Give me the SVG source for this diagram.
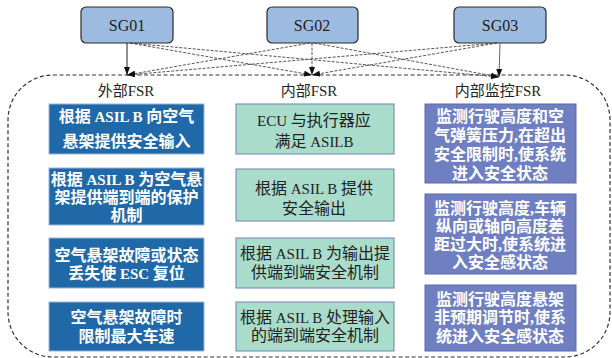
<svg xmlns="http://www.w3.org/2000/svg" width="612" height="358" viewBox="0 0 612 358">
<defs>
<marker id="ah" markerUnits="userSpaceOnUse" markerWidth="8" markerHeight="6" refX="8" refY="3" orient="auto">
<path d="M0,0 L8,3 L0,6 z" fill="#111"/>
</marker>
<style>
.sg{fill:#9dbbe0;stroke:#2a2a2a;stroke-width:1.2}
.sgt{font-family:"Liberation Serif",serif;font-size:16px;fill:#222;text-anchor:middle}
.lbl{font-family:"Liberation Serif","Noto Sans CJK SC",serif;font-size:15px;fill:#222;text-anchor:middle}
.lat{font-size:15px}
.b1{fill:#1f69a8;stroke:#9bb4d6;stroke-width:1}
.b2{fill:#aadccc;stroke:#6a82b4;stroke-width:1}
.b3{fill:#6f7fc1;stroke:#5b6bb0;stroke-width:1}
.t1{font-family:"Liberation Serif","Noto Sans CJK SC",serif;font-size:16px;font-weight:bold;fill:#fff;text-anchor:middle}
.t2{font-family:"Liberation Serif","Noto Sans CJK SC",serif;font-size:16px;fill:#222;text-anchor:middle}
.t3{font-family:"Liberation Serif","Noto Sans CJK SC",serif;font-size:16px;font-weight:bold;fill:#fff;text-anchor:middle}
.solid{stroke:#222;stroke-width:1;fill:none}
.dash{stroke:#444;stroke-width:0.9;stroke-dasharray:3,1.5;fill:none}
.cont{fill:none;stroke:#333;stroke-width:1.2;stroke-dasharray:4,2.5}
</style>
</defs>

<rect class="cont" x="8" y="75" width="602" height="282" rx="45" ry="45"/>

<g id="SG01"><rect class="sg" x="81" y="7" width="92" height="36" rx="5"/><text class="sgt" x="127" y="31">SG01</text></g>
<g id="SG02"><rect class="sg" x="267" y="7" width="91" height="36" rx="5"/><text class="sgt" x="312" y="31">SG02</text></g>
<g id="SG03"><rect class="sg" x="454" y="7" width="92" height="36" rx="5"/><text class="sgt" x="500" y="31">SG03</text></g>

<g id="connectors">
<path class="solid" d="M127,43 L127,75" marker-end="url(#ah)"/>
<path class="dash" d="M130,43 L312,75" marker-end="url(#ah)"/>
<path class="dash" d="M130,43 L499,77" marker-end="url(#ah)"/>
<path class="dash" d="M312,43 L312,75" marker-end="url(#ah)"/>
<path class="dash" d="M310,43 L127,75" marker-end="url(#ah)"/>
<path class="dash" d="M314,43 L499,77" marker-end="url(#ah)"/>
<path class="solid" d="M500,43 L499,77" style="stroke:#666" marker-end="url(#ah)"/>
<path class="dash" d="M497,43 L127,75" marker-end="url(#ah)"/>
<path class="dash" d="M497,43 L312,75" marker-end="url(#ah)"/>
</g>

<text class="lbl" x="126" y="96">外部<tspan>FSR</tspan></text>
<text class="lbl" x="309" y="96">内部<tspan>FSR</tspan></text>
<text class="lbl" x="498" y="96">内部监控<tspan>FSR</tspan></text>

<g id="ext1"><rect class="b1" x="49" y="104" width="155" height="50"/>
<text class="t1"><tspan x="126.5" y="122">根据<tspan class="lat"> ASIL B </tspan>向空气</tspan><tspan x="126.5" y="147">悬架提供安全输入</tspan></text></g>
<g id="ext2"><rect class="b1" x="49" y="168" width="155" height="57"/>
<text class="t1"><tspan x="126.5" y="185">根据<tspan class="lat"> ASIL B </tspan>为空气悬</tspan><tspan x="126.5" y="203">架提供端到端的保护</tspan><tspan x="126.5" y="221">机制</tspan></text></g>
<g id="ext3"><rect class="b1" x="49" y="238" width="155" height="50"/>
<text class="t1"><tspan x="126.5" y="261">空气悬架故障或状态</tspan><tspan x="126.5" y="279">丢失使<tspan class="lat"> ESC </tspan>复位</tspan></text></g>
<g id="ext4"><rect class="b1" x="49" y="302" width="155" height="49"/>
<text class="t1"><tspan x="126.5" y="323">空气悬架故障时</tspan><tspan x="126.5" y="342">限制最大车速</tspan></text></g>

<g id="int1"><rect class="b2" x="236" y="104" width="158" height="50"/>
<text class="t2"><tspan x="314" y="126"><tspan class="lat">ECU </tspan>与执行器应</tspan><tspan x="314" y="147">满足<tspan class="lat"> ASILB</tspan></tspan></text></g>
<g id="int2"><rect class="b2" x="236" y="169" width="158" height="52"/>
<text class="t2"><tspan x="314" y="194">根据<tspan class="lat"> ASIL B </tspan>提供</tspan><tspan x="314" y="214">安全输出</tspan></text></g>
<g id="int3"><rect class="b2" x="236" y="238" width="158" height="50"/>
<text class="t2"><tspan x="315" y="259">根据<tspan class="lat"> ASIL B </tspan>为输出提</tspan><tspan x="315" y="278">供端到端安全机制</tspan></text></g>
<g id="int4"><rect class="b2" x="236" y="302" width="158" height="49"/>
<text class="t2"><tspan x="315" y="323">根据<tspan class="lat"> ASIL B </tspan>处理输入</tspan><tspan x="315" y="341">的端到端安全机制</tspan></text></g>

<g id="mon1"><rect class="b3" x="425" y="104" width="151" height="79"/>
<text class="t3"><tspan x="500" y="122">监测行驶高度和空</tspan><tspan x="500" y="141">气弹簧压力,在超出</tspan><tspan x="500" y="160">安全限制时,使系统</tspan><tspan x="500" y="179">进入安全状态</tspan></text></g>
<g id="mon2"><rect class="b3" x="425" y="194" width="151" height="80"/>
<text class="t3"><tspan x="500" y="214">监测行驶高度,车辆</tspan><tspan x="500" y="232">纵向或轴向高度差</tspan><tspan x="500" y="250">距过大时,使系统进</tspan><tspan x="500" y="268">入安全感状态</tspan></text></g>
<g id="mon3"><rect class="b3" x="425" y="285" width="151" height="66"/>
<text class="t3"><tspan x="500" y="305">监测行驶高度悬架</tspan><tspan x="500" y="323">非预期调节时,使系</tspan><tspan x="500" y="342">统进入安全感状态</tspan></text></g>
</svg>
